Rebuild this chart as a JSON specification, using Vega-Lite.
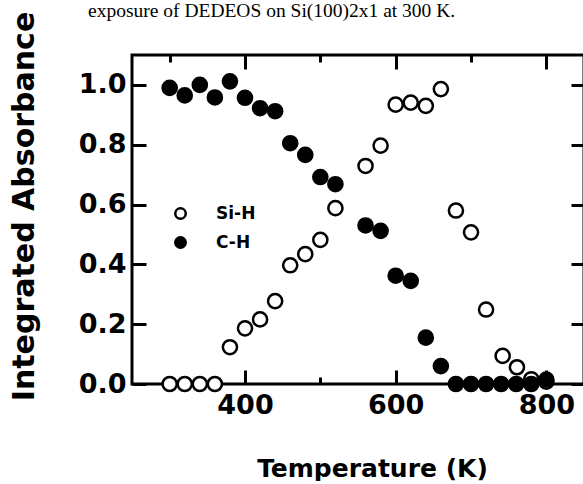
{
  "$schema": "https://vega.github.io/schema/vega-lite/v6.json",
  "width": 452,
  "height": 329,
  "padding": {"left": 9, "top": 0, "right": 0, "bottom": 0},
  "config": {
    "view": {"stroke": "black", "strokeWidth": 3},
    "axis": {"domain": false, "grid": false, "labelColor": "black", "titleColor": "black"}
  },
  "data": {
    "values": [
      {"T": 300, "A": 0, "s": "Si-H"},
      {"T": 320, "A": 0, "s": "Si-H"},
      {"T": 340, "A": 0, "s": "Si-H"},
      {"T": 360, "A": 0, "s": "Si-H"},
      {"T": 380, "A": 0.123, "s": "Si-H"},
      {"T": 400, "A": 0.186, "s": "Si-H"},
      {"T": 420, "A": 0.216, "s": "Si-H"},
      {"T": 440, "A": 0.277, "s": "Si-H"},
      {"T": 460, "A": 0.397, "s": "Si-H"},
      {"T": 480, "A": 0.434, "s": "Si-H"},
      {"T": 500, "A": 0.482, "s": "Si-H"},
      {"T": 520, "A": 0.588, "s": "Si-H"},
      {"T": 560, "A": 0.729, "s": "Si-H"},
      {"T": 580, "A": 0.797, "s": "Si-H"},
      {"T": 600, "A": 0.934, "s": "Si-H"},
      {"T": 620, "A": 0.941, "s": "Si-H"},
      {"T": 640, "A": 0.93, "s": "Si-H"},
      {"T": 660, "A": 0.986, "s": "Si-H"},
      {"T": 680, "A": 0.58, "s": "Si-H"},
      {"T": 700, "A": 0.507, "s": "Si-H"},
      {"T": 720, "A": 0.249, "s": "Si-H"},
      {"T": 742, "A": 0.094, "s": "Si-H"},
      {"T": 761, "A": 0.056, "s": "Si-H"},
      {"T": 780, "A": 0.016, "s": "Si-H"},
      {"T": 800, "A": 0.008, "s": "Si-H"},
      {"T": 300, "A": 0.99, "s": "C-H"},
      {"T": 320, "A": 0.965, "s": "C-H"},
      {"T": 340, "A": 1.0, "s": "C-H"},
      {"T": 360, "A": 0.958, "s": "C-H"},
      {"T": 380, "A": 1.012, "s": "C-H"},
      {"T": 400, "A": 0.957, "s": "C-H"},
      {"T": 420, "A": 0.922, "s": "C-H"},
      {"T": 440, "A": 0.912, "s": "C-H"},
      {"T": 460, "A": 0.805, "s": "C-H"},
      {"T": 480, "A": 0.766, "s": "C-H"},
      {"T": 500, "A": 0.692, "s": "C-H"},
      {"T": 520, "A": 0.668, "s": "C-H"},
      {"T": 560, "A": 0.53, "s": "C-H"},
      {"T": 580, "A": 0.512, "s": "C-H"},
      {"T": 600, "A": 0.362, "s": "C-H"},
      {"T": 620, "A": 0.345, "s": "C-H"},
      {"T": 640, "A": 0.155, "s": "C-H"},
      {"T": 660, "A": 0.06, "s": "C-H"},
      {"T": 680, "A": 0, "s": "C-H"},
      {"T": 700, "A": 0, "s": "C-H"},
      {"T": 720, "A": 0, "s": "C-H"},
      {"T": 740, "A": 0, "s": "C-H"},
      {"T": 760, "A": 0, "s": "C-H"},
      {"T": 780, "A": 0, "s": "C-H"},
      {"T": 800, "A": 0.015, "s": "C-H"}
    ]
  },
  "resolve": {"axis": {"x": "independent", "y": "independent"}},
  "layer": [
    {
      "mark": {"type": "point", "opacity": 0},
      "encoding": {
        "x": {"field": "T", "type": "quantitative", "scale": {"domain": [250, 850], "nice": false, "zero": false},
          "axis": {"orient": "top", "values": [400, 600, 800], "labels": false, "tickSize": 14, "offset": -14, "tickColor": "black", "tickWidth": 3,
            "title": "exposure of DEDEOS on Si(100)2x1 at 300 K.", "titleFont": "Liberation Serif", "titleFontSize": 19.5, "titleFontWeight": "normal",
            "titleX": -44.5, "titleY": -53, "titleAlign": "left", "titleBaseline": "alphabetic", "titleAngle": 0}},
        "y": {"field": "A", "type": "quantitative", "scale": {"domain": [0, 1.1], "nice": false},
          "axis": {"orient": "right", "values": [0, 0.2, 0.4, 0.6, 0.8, 1.0], "labels": false, "title": null, "tickSize": 13, "offset": -13, "tickColor": "black", "tickWidth": 3}}
      }
    },
    {
      "mark": {"type": "point", "opacity": 0},
      "encoding": {
        "x": {"field": "T", "type": "quantitative",
          "axis": {"orient": "top", "values": [300, 500, 700], "labels": false, "title": null, "tickSize": 7, "offset": -7, "tickColor": "black", "tickWidth": 3}},
        "y": {"field": "A", "type": "quantitative", "axis": null}
      }
    },
    {
      "mark": {"type": "point", "opacity": 0},
      "encoding": {
        "x": {"field": "T", "type": "quantitative",
          "axis": {"orient": "bottom", "values": [300, 500, 700], "labels": false, "title": null, "tickSize": 7, "offset": -7, "tickColor": "black", "tickWidth": 3}},
        "y": {"field": "A", "type": "quantitative", "axis": null}
      }
    },
    {
      "mark": {"type": "point", "filled": true, "stroke": "black", "strokeWidth": 2.5, "size": 200, "opacity": 1, "shape": "circle"},
      "encoding": {
        "x": {"field": "T", "type": "quantitative",
          "axis": {"orient": "bottom", "values": [400, 600, 800], "tickSize": 14, "offset": -14, "tickColor": "black", "tickWidth": 3,
            "labelFont": "DejaVu Sans", "labelFontWeight": "bold", "labelFontSize": 27, "labelPadding": 8,
            "title": "Temperature  (K)", "titleFont": "DejaVu Sans", "titleFontWeight": "bold", "titleFontSize": 25,
            "titleX": 240, "titleY": 106, "titleBaseline": "alphabetic", "titleAlign": "center"}},
        "y": {"field": "A", "type": "quantitative",
          "axis": {"orient": "left", "values": [0, 0.2, 0.4, 0.6, 0.8, 1.0], "format": ".1f", "tickSize": 14, "offset": -14, "tickColor": "black", "tickWidth": 3,
            "labelFont": "DejaVu Sans", "labelFontWeight": "bold", "labelFontSize": 27, "labelPadding": 6,
            "title": "Integrated  Absorbance", "titleFont": "DejaVu Sans", "titleFontWeight": "bold", "titleFontSize": 30,
            "titleX": -112.5, "titleY": 151, "titleAngle": -90, "titleBaseline": "alphabetic", "titleAlign": "center"}},
        "fill": {"field": "s", "type": "nominal", "sort": ["Si-H", "C-H"],
          "scale": {"domain": ["Si-H", "C-H"], "range": ["white", "black"]},
          "legend": {"title": null, "orient": "none", "legendX": 40, "legendY": 150, "symbolType": "circle", "symbolSize": 110,
            "symbolStrokeColor": "black", "symbolStrokeWidth": 2.5, "labelFont": "DejaVu Sans", "labelFontWeight": "bold",
            "labelFontSize": 17, "labelColor": "black", "labelOffset": 27, "rowPadding": 8, "padding": 0}}
      }
    }
  ]
}
